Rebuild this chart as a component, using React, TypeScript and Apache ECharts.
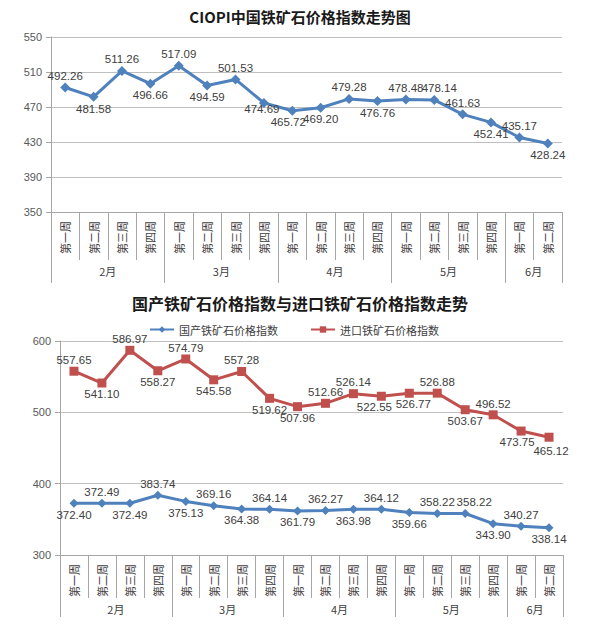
import React, { useEffect, useRef } from "react";
import * as echarts from "echarts";

// ---- data ----
const weeks = [
  "第一周", "第二周", "第三周", "第四周",
  "第一周", "第二周", "第三周", "第四周",
  "第一周", "第二周", "第三周", "第四周",
  "第一周", "第二周", "第三周", "第四周",
  "第一周", "第二周",
];
const monthNames = ["2月", "3月", "4月", "5月", "6月"];
const monthWeekCounts = [4, 4, 4, 4, 2];

const ciopi = [
  492.26, 481.58, 511.26, 496.66, 517.09, 494.59, 501.53, 474.69, 465.72,
  469.2, 479.28, 476.76, 478.48, 478.14, 461.63, 452.41, 435.17, 428.24,
];
const domestic = [
  372.4, 372.49, 372.49, 383.74, 375.13, 369.16, 364.38, 364.14, 361.79,
  362.27, 363.98, 364.12, 359.66, 358.22, 358.22, 343.9, 340.27, 338.14,
];
const imported = [
  557.65, 541.1, 586.97, 558.27, 574.79, 545.58, 557.28, 519.62, 507.96,
  512.66, 526.14, 522.55, 526.77, 526.88, 503.67, 496.52, 473.75, 465.12,
];

const title1 = "CIOPI中国铁矿石价格指数走势图";
const title2 = "国产铁矿石价格指数与进口铁矿石价格指数走势";
const domesticName = "国产铁矿石价格指数";
const importedName = "进口铁矿石价格指数";

const y1Ticks = { min: 350, max: 550, step: 40 };
const y2Ticks = { min: 300, max: 600, step: 100 };

// label sides and nudges (style)
const T = "top", B = "bottom";
const ciopiSide = [T, B, T, B, T, B, T, B, B, B, T, B, T, T, T, B, T, B];
const domesticSide = [B, T, B, T, B, T, B, T, B, T, B, T, B, T, T, B, T, B];
const importedSide = [T, B, T, B, T, B, T, B, B, T, T, B, B, T, B, T, B, B];
const ciopiNudge: Record<number, number[]> = { 7: [-2, -6], 8: [-4, 0], 13: [5, 0] };
const domesticNudge: Record<number, number[]> = { 14: [9, 0] };
const importedNudge: Record<number, number[]> = { 11: [-7, 0], 12: [4, 0], 16: [-4, 0], 17: [2, 3] };

const FONT = "'Liberation Sans', 'Noto Sans CJK SC', sans-serif";
const CJK = "'Noto Sans CJK SC', sans-serif";
const GRID_COLOR = "#bfbfbf";
const AXIS_COLOR = "#a6a6a6";
const BLUE = "#4f81bd";
const RED = "#c0504d";

// month axis: boundaries 0..N
const boundaries: number[] = [0];
const centers: Record<number, string> = {};
{
  let acc = 0;
  monthWeekCounts.forEach((c, i) => {
    centers[acc + c / 2] = monthNames[i];
    acc += c;
    boundaries.push(acc);
  });
}
const monthAxisData = Array.from({ length: weeks.length + 1 }, (_, i) => String(i));

function withLabels(values: number[], sides: string[], nudge: Record<number, number[]>) {
  return values.map((v, i) => ({
    value: v,
    label: { position: sides[i], offset: nudge[i] || [0, 0] },
  }));
}

function weekAxis(gridIndex: number, tickLen: number) {
  return {
    gridIndex,
    type: "category",
    data: weeks,
    boundaryGap: true,
    axisLine: { show: true, lineStyle: { color: AXIS_COLOR, width: 1 } },
    axisTick: { show: true, interval: 0, length: tickLen, lineStyle: { color: AXIS_COLOR } },
    axisLabel: {
      interval: 0,
      rotate: 90,
      fontSize: 11,
      color: "#404040",
      margin: 9,
      fontFamily: CJK,
    },
    splitLine: { show: false },
  };
}

function monthAxis(gridIndex: number, offset: number, tickLen: number) {
  return {
    gridIndex,
    type: "category",
    data: monthAxisData,
    boundaryGap: false,
    position: "bottom",
    offset,
    axisLine: { show: false },
    axisTick: {
      show: true,
      length: tickLen,
      interval: (i: number) => boundaries.includes(i),
      lineStyle: { color: AXIS_COLOR },
    },
    axisLabel: {
      interval: 0,
      margin: 5,
      fontSize: 11,
      color: "#404040",
      fontFamily: CJK,
      formatter: (_v: string, i: number) => centers[i] || "",
    },
    splitLine: { show: false },
  };
}

function valueAxis(gridIndex: number, t: { min: number; max: number; step: number }) {
  return {
    gridIndex,
    type: "value",
    min: t.min,
    max: t.max,
    interval: t.step,
    axisLine: { show: true, lineStyle: { color: AXIS_COLOR } },
    axisTick: { show: true, length: 5, lineStyle: { color: AXIS_COLOR } },
    splitLine: { show: true, lineStyle: { color: GRID_COLOR, width: 1 } },
    axisLabel: { fontSize: 11, color: "#595959", margin: 9, fontFamily: FONT },
  };
}

const labelStyle = {
  show: true,
  fontSize: 11.5,
  color: "#404040",
  fontFamily: FONT,
  distance: 1,
  formatter: (p: any) => Number(p.value).toFixed(2),
};

export default function App() {
  const ref = useRef<HTMLDivElement>(null);
  useEffect(() => {
    document.body.style.margin = "0";
    const chart = echarts.init(ref.current!, undefined, { renderer: "svg" });
    chart.setOption({
      animation: false,
      backgroundColor: "#ffffff",
      title: [
        {
          text: title1,
          left: "center",
          top: 4,
          textStyle: { fontSize: 15, fontWeight: "bold", color: "#1a1a1a", fontFamily: CJK },
        },
        {
          text: title2,
          left: "center",
          top: 290,
          textStyle: { fontSize: 16, fontWeight: "bold", color: "#1a1a1a", fontFamily: CJK },
        },
      ],
      legend: {
        data: [domesticName, importedName],
        left: 144,
        top: 319,
        itemWidth: 24,
        itemHeight: 8,
        itemGap: 32,
        textStyle: { fontSize: 11, color: "#404040", fontFamily: CJK },
      },
      grid: [
        { left: 51, right: 38, top: 37, height: 175 },
        { left: 60, right: 37, top: 341, height: 214 },
      ],
      xAxis: [
        weekAxis(0, 48),
        monthAxis(0, 48, 23),
        weekAxis(1, 43),
        monthAxis(1, 43, 19),
      ],
      yAxis: [valueAxis(0, y1Ticks), valueAxis(1, y2Ticks)],
      series: [
        {
          name: "CIOPI",
          type: "line",
          xAxisIndex: 0,
          yAxisIndex: 0,
          data: withLabels(ciopi, ciopiSide, ciopiNudge),
          symbol: "diamond",
          symbolSize: 10,
          lineStyle: { color: BLUE, width: 3 },
          itemStyle: { color: BLUE },
          label: labelStyle,
        },
        {
          name: domesticName,
          type: "line",
          xAxisIndex: 2,
          yAxisIndex: 1,
          data: withLabels(domestic, domesticSide, domesticNudge),
          symbol: "diamond",
          symbolSize: 9,
          lineStyle: { color: BLUE, width: 3 },
          itemStyle: { color: BLUE },
          label: labelStyle,
        },
        {
          name: importedName,
          type: "line",
          xAxisIndex: 2,
          yAxisIndex: 1,
          data: withLabels(imported, importedSide, importedNudge),
          symbol: "rect",
          symbolSize: 9,
          lineStyle: { color: RED, width: 3 },
          itemStyle: { color: RED },
          label: labelStyle,
        },
      ],
    });
    return () => chart.dispose();
  }, []);
  return <div ref={ref} style={{ width: 600, height: 634 }} />;
}
